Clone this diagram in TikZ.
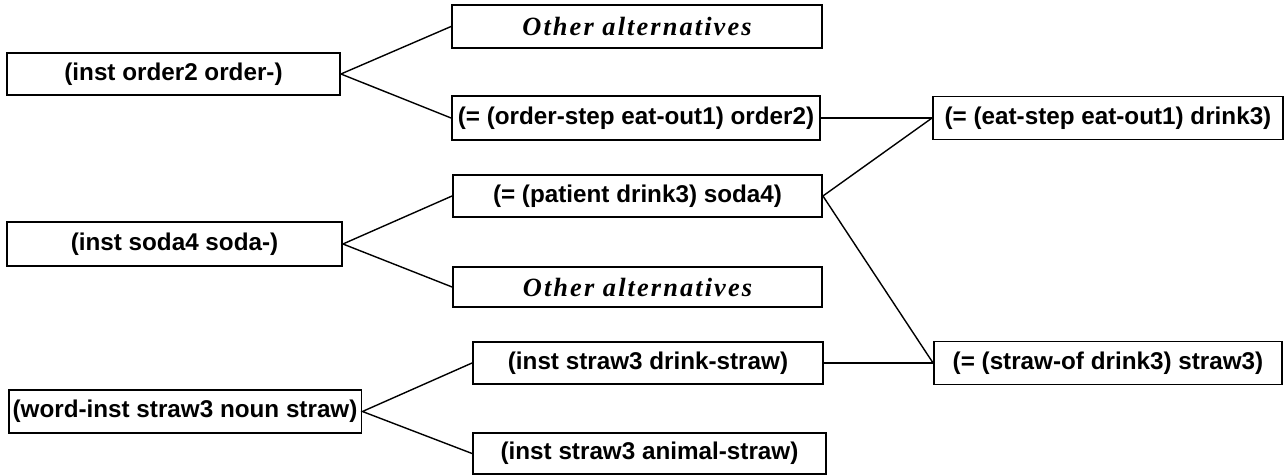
\documentclass[tikz,border=0pt]{standalone}
\usepackage{fontspec}
\newfontfamily\factfont{Liberation Sans}
\newfontfamily\otherfont[LetterSpace=8]{Liberation Serif}

\tikzset{
    fact/.style={draw, line width=1.1pt, inner sep=0pt, minimum height=0.86cm,
        font=\factfont\bfseries\fontsize{13.8}{16}\selectfont},
    other/.style={fact, font=\otherfont\bfseries\itshape\fontsize{15}{17}\selectfont},
    link/.style={line width=0.8pt}
}

\begin{document}
\begin{tikzpicture}
    \begin{scope}[x=0.02cm, y=-0.02cm]
        \useasboundingbox (0,0) rectangle (1286,475);

        % Left column: observed facts
        \node[fact, minimum width=6.66cm, minimum height=0.84cm] (order) at (173.5,74) {(inst order2 order-)};
        \node[fact, minimum width=6.7cm, minimum height=0.88cm] (soda) at (174.5,244) {(inst soda4 soda-)};
        \node[fact, minimum width=7.06cm] (word) at (185,411.5) {(word-inst straw3 noun straw)};

        % Middle column: alternatives
        \node[other, minimum width=7.4cm] (alta) at (637,26.5) {Other alternatives};
        \node[fact, minimum width=7.36cm, minimum height=0.88cm] (ordstep) at (636,118) {(= (order-step eat-out1) order2)};
        \node[fact, minimum width=7.38cm, minimum height=0.84cm] (patient) at (637.5,196) {(= (patient drink3) soda4)};
        \node[other, minimum width=7.38cm, minimum height=0.8cm] (altb) at (637.5,287) {Other alternatives};
        \node[fact, minimum width=7.0cm, minimum height=0.84cm] (drink) at (648,363) {(inst straw3 drink-straw)};
        \node[fact, minimum width=7.06cm, minimum height=0.82cm] (animal) at (649.5,453.5) {(inst straw3 animal-straw)};

        % Right column: conclusions
        \node[fact, minimum width=7.0cm] (eatstep) at (1108,118) {(= (eat-step eat-out1) drink3)};
        \node[fact, minimum width=6.96cm] (strawof) at (1108,363) {(= (straw-of drink3) straw3)};

        % Links
        \draw[link] (alta.west) -- (order.east) -- (ordstep.west);
        \draw[link] (patient.west) -- (soda.east) -- (altb.west);
        \draw[link] (drink.west) -- (word.east) -- (animal.west);
        \draw[link] (ordstep.east) -- (eatstep.west);
        \draw[link] (eatstep.west) -- (patient.east) -- (strawof.west);
        \draw[link] (drink.east) -- (strawof.west);
    \end{scope}
\end{tikzpicture}
\end{document}
